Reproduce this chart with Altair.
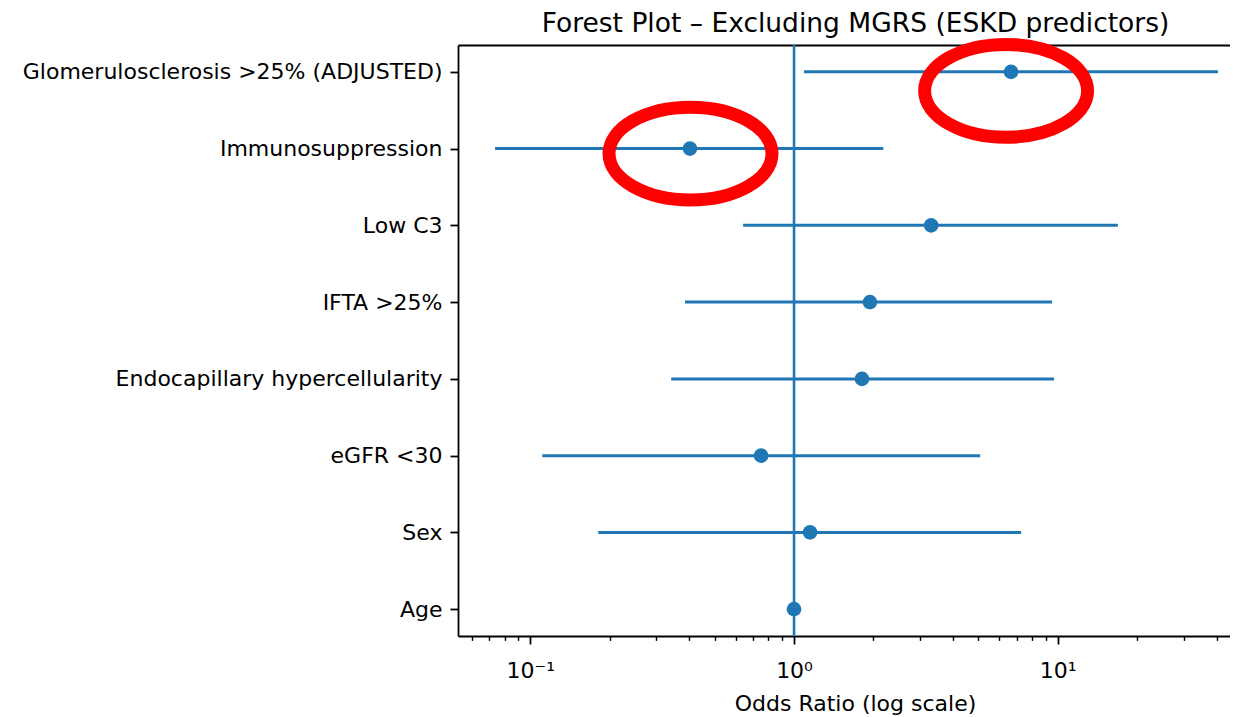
import altair as alt
import pandas as pd

# ---- data ----
labels = [
    "Glomerulosclerosis >25% (ADJUSTED)",
    "Immunosuppression",
    "Low C3",
    "IFTA >25%",
    "Endocapillary hypercellularity",
    "eGFR <30",
    "Sex",
    "Age",
]
odds_ratio = [6.65, 0.403, 3.31, 1.94, 1.81, 0.750, 1.15, 1.00]
ci_low = [1.09, 0.0735, 0.641, 0.386, 0.342, 0.111, 0.181, 0.99]
ci_high = [40.5, 2.18, 16.9, 9.52, 9.68, 5.08, 7.26, 1.01]

major_ticks = [0.1, 1, 10]
major_tick_labels = ["10⁻¹", "10⁰", "10¹"]
minor_ticks = [0.06, 0.07, 0.08, 0.09,
               0.2, 0.3, 0.4, 0.5, 0.6, 0.7, 0.8, 0.9,
               2, 3, 4, 5, 6, 7, 8, 9,
               20, 30, 40]
x_domain = [0.05318, 45.0]
reference_line = [1]

highlight_labels = ["Glomerulosclerosis >25% (ADJUSTED)", "Immunosuppression"]
highlight_x = [6.37, 0.405]

chart_title = "Forest Plot – Excluding MGRS (ESKD predictors)"
x_title = "Odds Ratio (log scale)"

# ---- tables ----
df = pd.DataFrame({"label": labels, "or": odds_ratio, "lo": ci_low, "hi": ci_high})
df_ref = pd.DataFrame({"x": reference_line})
df_hl = pd.DataFrame({"label": highlight_labels, "x": highlight_x})

BLUE = "#1f77b4"
FONT = "DejaVu Sans"

label_expr = " : ".join(
    f"abs(datum.value - {v}) < {v} * 0.01 ? '{t}'" for v, t in zip(major_ticks, major_tick_labels)
) + " : ''"

xscale = alt.Scale(type="log", domain=x_domain, nice=False)
yscale = alt.Scale(type="point", padding=0.35, domain=labels)

y_axis = alt.Axis(
    orient="left", title=None, labelFont=FONT, labelFontSize=22, labelColor="black",
    tickSize=8, tickWidth=1.8, tickColor="black",
    domainColor="black", domainWidth=1.8, labelPadding=8, grid=False,
    labelLimit=600,
)

major_axis = alt.Axis(
    orient="bottom", values=major_ticks, labelExpr=label_expr,
    tickSize=8, tickWidth=1.8, tickColor="black",
    domainColor="black", domainWidth=1.8, grid=False,
    labelFont=FONT, labelFontSize=22, labelColor="black", labelPadding=16,
    labelFlush=False, labelOverlap=False,
    title=x_title, titleFont=FONT, titleFontSize=22, titleFontWeight="normal",
    titleColor="black", titleX=397, titleY=74, titleAlign="center",
    titleBaseline="alphabetic",
)
minor_axis = alt.Axis(
    orient="bottom", values=minor_ticks, labels=False, domain=False,
    tickSize=4.4, tickWidth=1.4, tickColor="black", grid=False, title=None,
)
top_axis = alt.Axis(
    orient="top", labels=False, ticks=False, domain=True,
    domainColor="black", domainWidth=1.8, grid=False, title=None,
)


def ycode():
    return alt.Y("label:N", scale=yscale, axis=y_axis)


vline = alt.Chart(df_ref).mark_rule(color=BLUE, strokeWidth=2.6).encode(
    x=alt.X("x:Q", scale=xscale, axis=top_axis)
)

bars = alt.Chart(df).mark_rule(color=BLUE, strokeWidth=3).encode(
    x=alt.X("lo:Q", scale=xscale, axis=major_axis),
    x2="hi:Q",
    y=ycode(),
)

points = alt.Chart(df).mark_circle(color=BLUE, size=215, opacity=1).encode(
    x=alt.X("or:Q", scale=xscale, axis=minor_axis),
    y=ycode(),
)

ellipse_path = "M-1,0A1,0.57,0,1,0,1,0A1,0.57,0,1,0,-1,0Z"


def ellipse_layer(i, dy):
    return alt.Chart(df_hl.iloc[[i]]).mark_point(
        shape=ellipse_path, filled=False, stroke="#ff0000", strokeWidth=13,
        size=163 * 163, opacity=1, yOffset=dy,
    ).encode(
        x=alt.X("x:Q", scale=xscale, axis=None),
        y=ycode(),
    )


chart = (
    alt.layer(vline, bars, points, ellipse_layer(0, 19), ellipse_layer(1, 5))
    .resolve_axis(x="independent")
    .properties(
        width=772, height=591,
        autosize=alt.AutoSizeParams(type="none"),
        padding={"left": 450, "top": 37, "right": 0, "bottom": 80},
        title=alt.TitleParams(
            text=chart_title, font=FONT, fontSize=26.5, fontWeight="normal",
            color="black", anchor="middle", baseline="alphabetic",
            offset=14, dx=11.5, dy=54,
        ),
        background="white",
    )
    .configure_view(stroke=None)
)

chart.save("out.html", embed_options={"renderer": "svg", "actions": False})
